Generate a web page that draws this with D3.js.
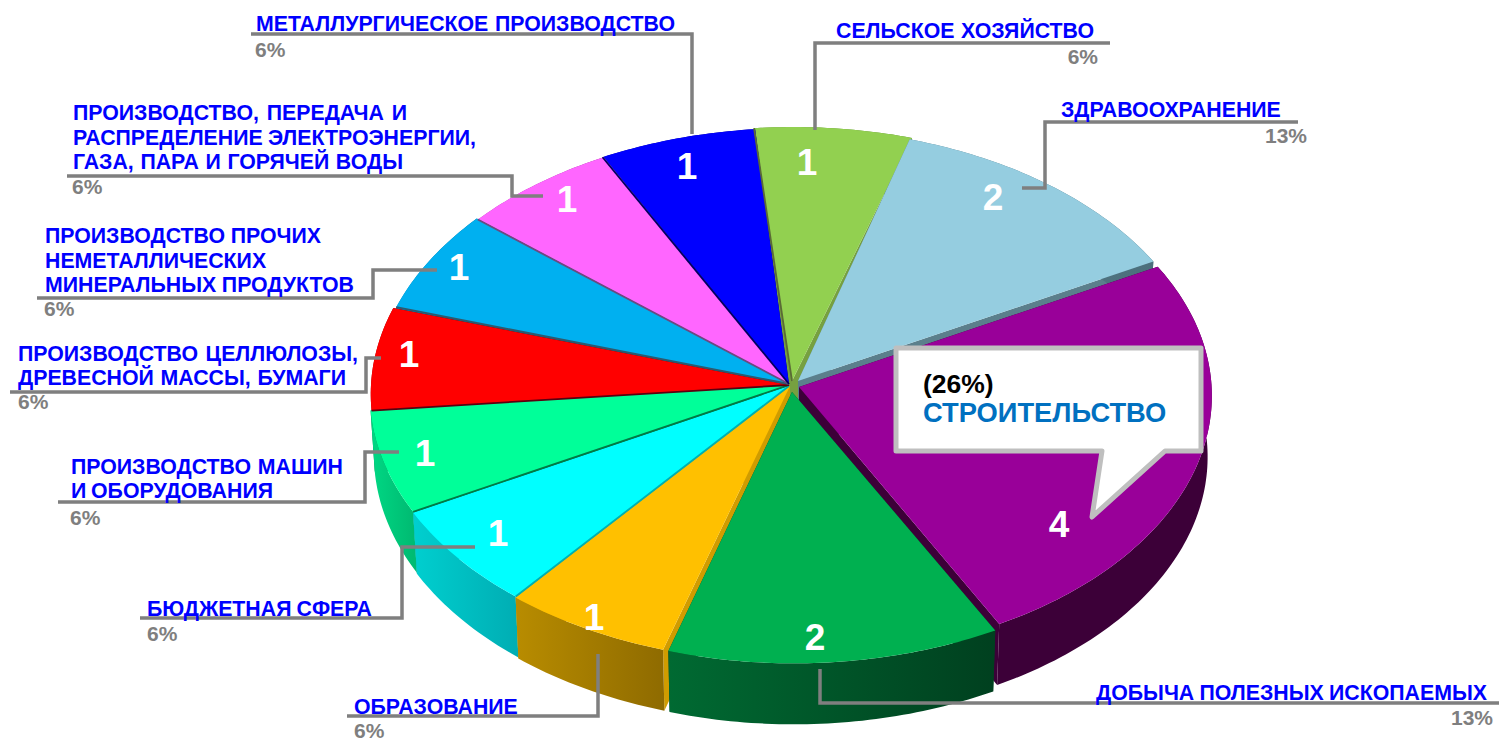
<!DOCTYPE html>
<html>
<head>
<meta charset="utf-8">
<script src="https://cdn.jsdelivr.net/npm/d3@7"></script>
<style>
  html, body { margin: 0; padding: 0; background: #fff; overflow: hidden; }
  svg { display: block; }
  text { font-family: "Liberation Sans", Arial, sans-serif; font-weight: bold; }
</style>
</head>
<body>
<svg id="chart"></svg>
<script>
const width = 1499;
const height = 739;

// data, clockwise from the purple slice
const categories = ["СТРОИТЕЛЬСТВО", "ДОБЫЧА ПОЛЕЗНЫХ ИСКОПАЕМЫХ", "ОБРАЗОВАНИЕ", "БЮДЖЕТНАЯ СФЕРА",
  "ПРОИЗВОДСТВО МАШИН И ОБОРУДОВАНИЯ", "ПРОИЗВОДСТВО ЦЕЛЛЮЛОЗЫ, ДРЕВЕСНОЙ МАССЫ, БУМАГИ",
  "ПРОИЗВОДСТВО ПРОЧИХ НЕМЕТАЛЛИЧЕСКИХ МИНЕРАЛЬНЫХ ПРОДУКТОВ",
  "ПРОИЗВОДСТВО, ПЕРЕДАЧА И РАСПРЕДЕЛЕНИЕ ЭЛЕКТРОЭНЕРГИИ, ГАЗА, ПАРА И ГОРЯЧЕЙ ВОДЫ",
  "МЕТАЛЛУРГИЧЕСКОЕ ПРОИЗВОДСТВО", "СЕЛЬСКОЕ ХОЗЯЙСТВО", "ЗДРАВООХРАНЕНИЕ"];
const values = [4, 2, 1, 1, 1, 1, 1, 1, 1, 1, 2];
const percents = ["26%", "13%", "6%", "6%", "6%", "6%", "6%", "6%", "6%", "6%", "13%"];

// look of each slice, same order as the data
const topColors = ["#990099", "#00b050", "#ffc000", "#00ffff", "#00ff99", "#ff0000", "#00b0f0", "#ff66ff", "#0000ff", "#92d050", "#95cde0"];
const wallLight = ["#3c0038", "#006a32", "#b88c00", "#00cfcf", "#00d884", "#a00000", "#0080b0", "#b040b0", "#0000a0", "#6a9a38", "#5b7f8c"];
const wallDark = ["#3c0038", "#00401f", "#8f6b00", "#00aeb4", "#00bb72", "#800000", "#006a90", "#903090", "#000080", "#5a8a30", "#4b6f7c"];
const faceColors = ["#3c0038", "#004020", "#d09c00", "#00b0b0", "#007a45", "#5a0010", "#2c5a70", "#6a4a80", "#000060", "#76a040", "#5b7f8c"];
const shifts = [[10, 2], [4, 6], [0, 2], [0, 1], [0, 0], [1, 0], [4, -1], [5, 0], [4, 0], [3, -1], [2, -2]];
const tips = [[799, 387], [792, 392], [790, 386], [789, 386], [789, 385], [789, 385], [789, 384], [789, 384], [789, 384], [792, 381], [798, 381]];
const radii = [0.98, 0.99, 1, 1, 1, 1, 1, 1, 1, 1, 0.99];
const drawOrder = [9, 8, 7, 6, 5, 4, 3, 2, 10, 0, 1];
// thin dark lines between neighbours on the left half (index into the data)
const separators = [3, 4, 5, 6, 7, 8, 9];
const separatorColors = { 3: "#00b0b0", 4: "#007a45", 5: "#5a0010", 6: "#2c5a70", 7: "#6a4a80", 8: "#000060", 9: "#5a6b35" };

// "4", "2", "1" ... placed by hand like in the original slide
const valuePos = [[1059, 537], [815, 650], [594, 630], [498, 546], [425, 466], [409, 367], [459, 280], [567, 212], [687, 179], [807, 175], [993, 210]];

const labels = [
  { lines: [["ДОБЫЧА ПОЛЕЗНЫХ ИСКОПАЕМЫХ", 1096, 700, 1487]], pct: "13%", pctX: 1493, pctY: 725, anchor: "end", leader: [[1499, 703], [820, 703], [820, 669]] },
  { lines: [["ОБРАЗОВАНИЕ", 354, 714, 517]], pct: "6%", pctX: 354, pctY: 738, leader: [[347, 716], [598, 716], [598, 654]] },
  { lines: [["БЮДЖЕТНАЯ СФЕРА", 147, 616, 372]], pct: "6%", pctX: 147, pctY: 641, leader: [[140, 618], [402, 618], [402, 547], [475, 547]] },
  { lines: [["ПРОИЗВОДСТВО МАШИН", 71, 474, 343], ["И ОБОРУДОВАНИЯ", 71, 498, 273]], pct: "6%", pctX: 70, pctY: 525, leader: [[58, 502], [365, 502], [365, 452], [399, 452]] },
  { lines: [["ПРОИЗВОДСТВО ЦЕЛЛЮЛОЗЫ,", 18, 361, 358], ["ДРЕВЕСНОЙ МАССЫ, БУМАГИ", 18, 385, 346]], pct: "6%", pctX: 18, pctY: 409, leader: [[10, 392], [366, 392], [366, 358], [381, 358]] },
  { lines: [["ПРОИЗВОДСТВО ПРОЧИХ", 45, 243, 321], ["НЕМЕТАЛЛИЧЕСКИХ", 45, 268, 263], ["МИНЕРАЛЬНЫХ ПРОДУКТОВ", 45, 292, 354]], pct: "6%", pctX: 44, pctY: 316, leader: [[37, 298], [373, 298], [373, 270], [437, 270]] },
  { lines: [["ПРОИЗВОДСТВО, ПЕРЕДАЧА И", 73, 120, 407], ["РАСПРЕДЕЛЕНИЕ ЭЛЕКТРОЭНЕРГИИ,", 73, 145, 476], ["ГАЗА, ПАРА И ГОРЯЧЕЙ ВОДЫ", 73, 169, 403]], pct: "6%", pctX: 72, pctY: 194, leader: [[67, 176], [512, 176], [512, 196], [543, 196]] },
  { lines: [["МЕТАЛЛУРГИЧЕСКОЕ ПРОИЗВОДСТВО", 256, 31, 675]], pct: "6%", pctX: 255, pctY: 57, leader: [[251, 34], [692, 34], [692, 134]] },
  { lines: [["СЕЛЬСКОЕ ХОЗЯЙСТВО", 836, 38, 1094]], pct: "6%", pctX: 1098, pctY: 64, anchor: "end", leader: [[1110, 43], [815, 43], [815, 130]] },
  { lines: [["ЗДРАВООХРАНЕНИЕ", 1061, 117, 1283]], pct: "13%", pctX: 1307, pctY: 143, anchor: "end", leader: [[1298, 122], [1045, 122], [1045, 188], [1022, 188]] }
];

const cx = 790, cy = 385, rx = 420, ry = 265.7, persp = 0.034, depth = 61;

// angle (clockwise from top) -> point on the tilted disc
function project(a, r) {
  const s = Math.sin(a), c = -Math.cos(a);
  const f = 1 / (1 - persp * c);
  return [cx + rx * r * s * f, cy + ry * r * c * f];
}

const svg = d3.select("#chart").attr("width", width).attr("height", height);
const defs = svg.append("defs");

const start = 62 * Math.PI / 180;
const arcs = d3.pie().sort(null).startAngle(start).endAngle(start + 2 * Math.PI)(values);

const line = d3.line();
const edge = (d, i) => {
  const n = Math.ceil((d.endAngle - d.startAngle) * 60);
  return d3.range(n + 1).map(k => {
    const p = project(d.startAngle + (d.endAngle - d.startAngle) * k / n, radii[i]);
    return [p[0] + shifts[i][0], p[1] + shifts[i][1]];
  });
};
// the underside looks a little narrower than the top
const under = p => [cx + (p[0] - cx) * 0.99, p[1] + depth];

const gPie = svg.append("g");
drawOrder.forEach(i => {
  const d = arcs[i];
  const pts = edge(d, i);
  const tip = tips[i];
  const first = pts[0], last = pts[pts.length - 1];

  const grad = defs.append("linearGradient")
    .attr("id", "wall" + i)
    .attr("gradientUnits", "userSpaceOnUse")
    .attr("x1", d3.min(pts, p => p[0]))
    .attr("x2", d3.max(pts, p => p[0]))
    .attr("y1", 0).attr("y2", 0);
  grad.append("stop").attr("offset", 0).attr("stop-color", wallLight[i]);
  grad.append("stop").attr("offset", 1).attr("stop-color", wallDark[i]);

  const g = gPie.append("g");
  // two cut faces
  [first, last].forEach(p => {
    g.append("path")
      .attr("d", line([tip, p, under(p), [tip[0], tip[1] + depth]]) + "Z")
      .attr("fill", faceColors[i]);
  });
  // outer wall
  g.append("path")
    .attr("d", line(pts.concat(pts.map(under).reverse())) + "Z")
    .attr("fill", `url(#wall${i})`);
  // top
  g.append("path")
    .attr("d", line([tip].concat(pts)) + "Z")
    .attr("fill", topColors[i]);
});

gPie.append("g").selectAll("path")
  .data(separators)
  .enter()
  .append("path")
  .attr("d", i => line([tips[i], edge(arcs[i], i)[0]]))
  .attr("stroke", i => separatorColors[i])
  .attr("stroke-width", 1.8)
  .attr("fill", "none");

// leaders and labels
const gLabels = svg.append("g");
gLabels.selectAll("path")
  .data(labels)
  .enter()
  .append("path")
  .attr("d", d => line(d.leader))
  .attr("fill", "none")
  .attr("stroke", "#7f7f7f")
  .attr("stroke-width", 3.5);

labels.forEach(l => {
  l.lines.forEach(([txt, x, y, x2]) => {
    const t = gLabels.append("text")
      .attr("x", x).attr("y", y)
      .attr("font-size", 21.3)
      .attr("fill", "#0000ff")
      .text(txt);
    // the slide text is justified, stretch the gaps to the measured width
    const gaps = txt.split(" ").length - 1;
    const extra = (x2 - x) - t.node().getComputedTextLength();
    if (gaps > 0) t.style("word-spacing", (extra / gaps) + "px");
  });
  gLabels.append("text")
    .attr("x", l.pctX).attr("y", l.pctY)
    .attr("text-anchor", l.anchor || "start")
    .attr("font-size", 21)
    .attr("fill", "#7f7f7f")
    .text(l.pct);
});

// numbers on the slices
svg.append("g").selectAll("text")
  .data(values)
  .enter()
  .append("text")
  .attr("x", (d, i) => valuePos[i][0])
  .attr("y", (d, i) => valuePos[i][1])
  .attr("text-anchor", "middle")
  .attr("font-size", 37)
  .attr("fill", "#fff")
  .text(d => d);

// callout for the biggest slice
const gCall = svg.append("g");
gCall.append("path")
  .attr("d", line([[896, 348], [1201, 348], [1201, 451], [1165, 451], [1092, 517], [1102, 451], [896, 451]]) + "Z")
  .attr("fill", "#fff")
  .attr("stroke", "#bfbfbf")
  .attr("stroke-width", 5)
  .attr("stroke-linejoin", "round");
gCall.append("text")
  .attr("x", 923).attr("y", 393)
  .attr("font-size", 26.5)
  .attr("fill", "#000")
  .text("(" + percents[0] + ")");
gCall.append("text")
  .attr("x", 923).attr("y", 422)
  .attr("font-size", 27.3)
  .attr("fill", "#0070c0")
  .text(categories[0]);
</script>
</body>
</html>
